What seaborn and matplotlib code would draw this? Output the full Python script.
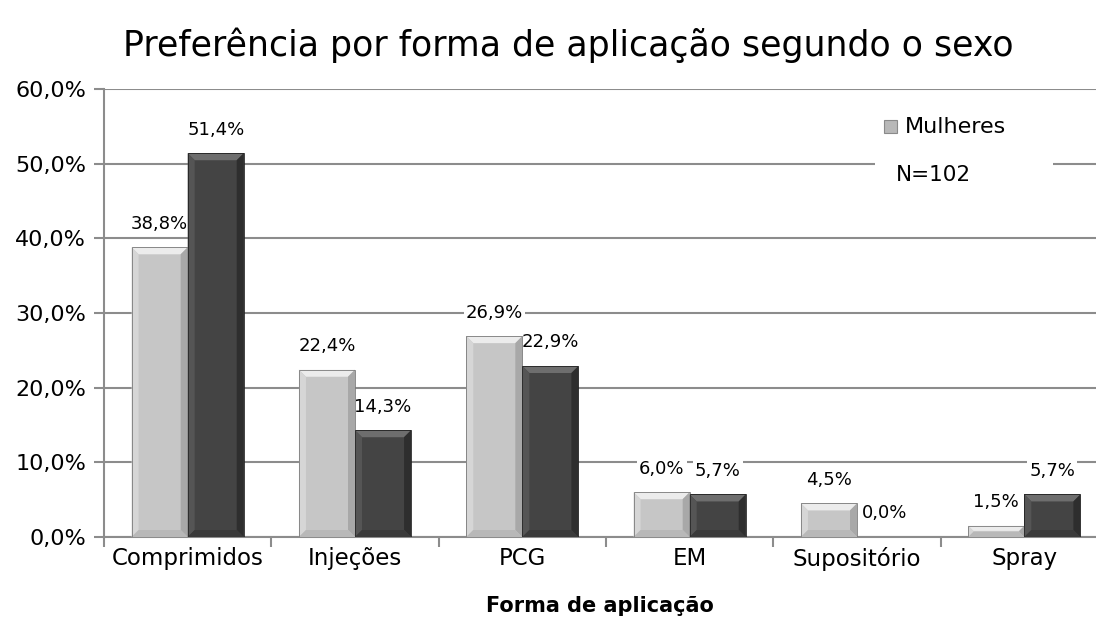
import matplotlib
matplotlib.use("Agg")
import matplotlib.pyplot as plt
import seaborn as sns
import pandas as pd
from matplotlib.patches import Rectangle, Polygon
from matplotlib.ticker import FixedLocator, FuncFormatter

categories = ["Comprimidos", "Injeções", "PCG", "EM", "Supositório", "Spray"]
mulheres = [38.8, 22.4, 26.9, 6.0, 4.5, 1.5]
homens = [51.4, 14.3, 22.9, 5.7, 0.0, 5.7]
yticks = [0, 10, 20, 30, 40, 50, 60]

sns.set_theme(style="white")
plt.rcParams['font.family'] = ['DejaVu Sans']

df = pd.DataFrame({
    "Forma": categories * 2,
    "Valor": mulheres + homens,
    "Sexo": ["Mulheres"] * len(categories) + ["Homens"] * len(categories),
})

W, H = 1096, 623
fig = plt.figure(figsize=(W / 100, H / 100), dpi=100)
ax = fig.add_axes([104 / W, (H - 537) / H, 1004 / W, 448 / H])

light = "#c6c6c6"
dark = "#444444"
sns.barplot(data=df, x="Forma", y="Valor", hue="Sexo", order=categories,
            hue_order=["Mulheres", "Homens"], palette=[light, dark],
            width=0.67, ax=ax, legend=False, zorder=3,
            edgecolor="none", linewidth=0)

ax.set_ylim(0, 60)
ax.set_xlim(-0.5, len(categories) - 0.5)

# bevel effect on each bar (derived from bar patches)
px_x = (len(categories)) / 1004.0
px_y = 60.0 / 448.0
for p in list(ax.patches):
    h = p.get_height()
    if h <= 0:
        continue
    x0, w = p.get_x(), p.get_width()
    x1 = x0 + w
    is_light = p.get_facecolor()[0] > 0.5
    b = min(7, h / px_y / 2.2)
    dx, dy = b * px_x, b * px_y
    top_c = "#ececec" if is_light else "#6e6e6e"
    left_c = "#d6d6d6" if is_light else "#555555"
    right_c = "#a8a8a8" if is_light else "#2e2e2e"
    bot_c = "#b8b8b8" if is_light else "#3a3a3a"
    ax.add_patch(Polygon([(x0, h), (x1, h), (x1 - dx, h - dy), (x0 + dx, h - dy)],
                         closed=True, facecolor=top_c, edgecolor="none", zorder=4))
    ax.add_patch(Polygon([(x0, h), (x0 + dx, h - dy), (x0 + dx, dy), (x0, 0)],
                         closed=True, facecolor=left_c, edgecolor="none", zorder=4))
    ax.add_patch(Polygon([(x1, h), (x1 - dx, h - dy), (x1 - dx, dy), (x1, 0)],
                         closed=True, facecolor=right_c, edgecolor="none", zorder=4))
    ax.add_patch(Polygon([(x0, 0), (x1, 0), (x1 - dx, dy), (x0 + dx, dy)],
                         closed=True, facecolor=bot_c, edgecolor="none", zorder=4))
    ax.add_patch(Rectangle((x0, 0), w, h, facecolor="none",
                           edgecolor="#7a7a7a" if is_light else "#222222",
                           linewidth=0.6, zorder=5))

ax.yaxis.set_major_locator(FixedLocator(yticks))
ax.yaxis.set_major_formatter(FuncFormatter(lambda v, _: f"{v:.1f}%".replace(".", ",")))
ax.grid(axis="y", color="#8c8c8c", linewidth=1.5, zorder=0)
ax.set_axisbelow(True)

for s in ["top", "right"]:
    ax.spines[s].set_visible(False)
for s in ["left", "bottom"]:
    ax.spines[s].set_color("#8c8c8c")
    ax.spines[s].set_linewidth(1.5)

ax.tick_params(axis="y", which="major", length=7, width=1.5, color="#8c8c8c",
               labelsize=16, pad=6, left=True, labelcolor="black")
ax.set_xticks(range(len(categories)))
ax.set_xticklabels(categories)
ax.tick_params(axis="x", which="major", length=0, labelsize=16.5, pad=7, labelcolor="black")
ax.set_xticks([i + 0.5 for i in range(-1, len(categories) - 1)], minor=True)
ax.tick_params(axis="x", which="minor", length=7, width=1.5, color="#8c8c8c", bottom=True)
ax.set_xlabel("")
ax.set_ylabel("")

# value labels (white box hides gridlines, bars drawn over it)
offs = [-0.67 / 4, 0.67 / 4]
for j, vals in enumerate([mulheres, homens]):
    for i, v in enumerate(vals):
        ax.annotate(f"{v:.1f}%".replace(".", ","), (i + offs[j], v),
                    xytext=(0, 10.5), textcoords="offset points", ha="center",
                    va="bottom", fontsize=13, zorder=2, color="black",
                    bbox=dict(facecolor="white", edgecolor="none", pad=1.5))

# legend box (white, interrupts gridlines)
fig.patches.append(Rectangle((875 / W, (H - 200) / H), 178 / W, 95 / H,
                             transform=fig.transFigure, facecolor="white",
                             edgecolor="none", zorder=5))
fig.patches.append(Rectangle((884 / W, (H - 133) / H), 13 / W, 13 / H,
                             transform=fig.transFigure, facecolor="#b8b8b8",
                             edgecolor="#8a8a8a", linewidth=0.8, zorder=6))
fig.text(905 / W, (H - 127) / H, "Mulheres", fontsize=16, va="center", ha="left",
         zorder=7, color="black")
fig.text(896 / W, (H - 175) / H, "N=102", fontsize=15.5, va="center", ha="left",
         zorder=7, color="black")

fig.text(568 / W, (H - 45) / H, "Preferência por forma de aplicação segundo o sexo",
         fontsize=25, ha="center", va="center", color="black")
fig.text(600 / W, (H - 606) / H, "Forma de aplicação", fontsize=15,
         fontweight="bold", ha="center", va="center", color="black")

fig.savefig("out.png", dpi=100)
